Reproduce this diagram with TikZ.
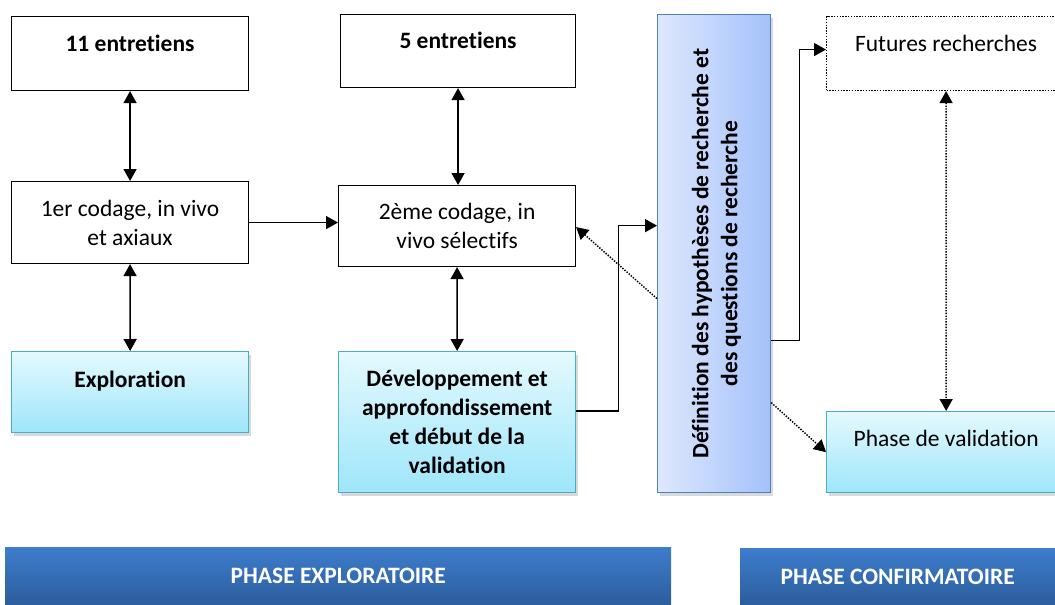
\documentclass[tikz,border=0pt]{standalone}
\usepackage{fontspec}
\setmainfont{Carlito}[Ligatures=NoCommon]
\usetikzlibrary{arrows.meta,shadows,calc}
\definecolor{cyantop}{RGB}{228,249,254}
\definecolor{cyanbot}{RGB}{158,230,250}
\definecolor{cyanedge}{RGB}{75,172,198}
\definecolor{blueleft}{RGB}{223,232,253}
\definecolor{blueright}{RGB}{163,193,250}
\definecolor{blueedge}{RGB}{79,129,189}
\definecolor{bartop}{RGB}{61,125,204}
\definecolor{barbot}{RGB}{44,93,156}
\newcommand\bodyfont{\fontsize{23.5}{29}\selectfont}
\begin{document}
\begin{tikzpicture}[x=1pt,y=1pt,
  every node/.append style={font=\bodyfont},
  plainbox/.style={draw=black, line width=1.1pt, fill=white, inner sep=0pt, align=flush center, anchor=north west},
  cyanbox/.style={draw=cyanedge, line width=1.3pt, top color=cyantop, bottom color=cyanbot, inner sep=0pt, align=flush center, anchor=north west, drop shadow={shadow xshift=2pt, shadow yshift=-3pt, opacity=0.3}},
  barbox/.style={top color=bartop, bottom color=barbot, inner sep=0pt, anchor=north west, text=white, font=\bodyfont\bfseries},
  boldtext/.style={font=\bodyfont\bfseries},
  arr/.style={line width=1.5pt, -{Triangle[length=12pt,width=13pt]}},
  darr/.style={line width=1.5pt, {Triangle[length=12pt,width=13pt]}-{Triangle[length=12pt,width=13pt]}},
  dotline/.style={dash pattern=on 1.4pt off 1.4pt}
]
\useasboundingbox (0,0) rectangle (1055,-605);

% boxes
\node[plainbox, boldtext, text width=237pt, text height=34.5pt, text depth=39.5pt] (A) at (11,-16) {11 entretiens};
\node[plainbox, boldtext, text width=235pt, text height=33.5pt, text depth=39.5pt] (B) at (340,-14) {5 entretiens};
\node[plainbox, minimum width=237pt, minimum height=82pt] (C) at (11,-181) {1er codage, in vivo\\et axiaux};
\node[plainbox, minimum width=237pt, minimum height=81pt] (D) at (338,-185) {2ème codage, in\\vivo sélectifs};
\node[cyanbox, boldtext, text width=237pt, text height=35.5pt, text depth=45.5pt] (E) at (11,-351) {Exploration};
\node[cyanbox, boldtext, minimum width=237pt, minimum height=141pt] (F) at (338,-351) {Développement et\\approfondissement\\et début de la\\validation};
\node[draw=blueedge, line width=1.3pt, left color=blueleft, right color=blueright, minimum width=113pt, minimum height=478pt, anchor=north west, inner sep=0pt, drop shadow={shadow xshift=2pt, shadow yshift=-3pt, opacity=0.3}] (G) at (657,-14)
  {\hspace*{6pt}\rotatebox{90}{\bfseries\begin{tabular}{@{}c@{}}Définition des hypothèses de recherche et\\des questions de recherche\end{tabular}}};
\node[draw=black, dotline, line width=1.1pt, fill=white, inner sep=0pt, align=flush center, anchor=north west, text width=239pt, text height=35pt, text depth=39pt] (H) at (826,-16) {Futures recherches};
\node[cyanbox, text width=239pt, text height=35pt, text depth=46pt] (I) at (826,-411) {Phase de validation};

% phase bars
\node[barbox, minimum width=666pt, minimum height=58pt] (P1) at (5,-547) {PHASE EXPLORATOIRE};
\node[barbox, minimum width=315pt, minimum height=57pt] (P2) at (740,-548) {PHASE CONFIRMATOIRE};

% connectors
\draw[darr] (A.south) -- (C.north);
\draw[darr] (C.south) -- (E.north);
\draw[arr] (C.east) -- (C.east -| D.west);
\draw[darr] (B.south) -- (B.south |- D.north);
\draw[darr] (D.south) -- (F.north);
\draw[arr] ([yshift=11pt]F.east) -- ++(42,0) |- ([yshift=28pt]G.west);
\draw[arr, dotline] ([yshift=-45pt]G.west) -- ([yshift=-1pt]D.east);
\draw[arr] ([yshift=-87pt]G.east) -- ++(28,0) |- ([yshift=4pt]H.west);
\draw[arr, dotline] ([yshift=-149pt]G.east) -- (I.west);
\draw[darr, dotline] (H.south) -- (I.north);
\end{tikzpicture}
\end{document}
